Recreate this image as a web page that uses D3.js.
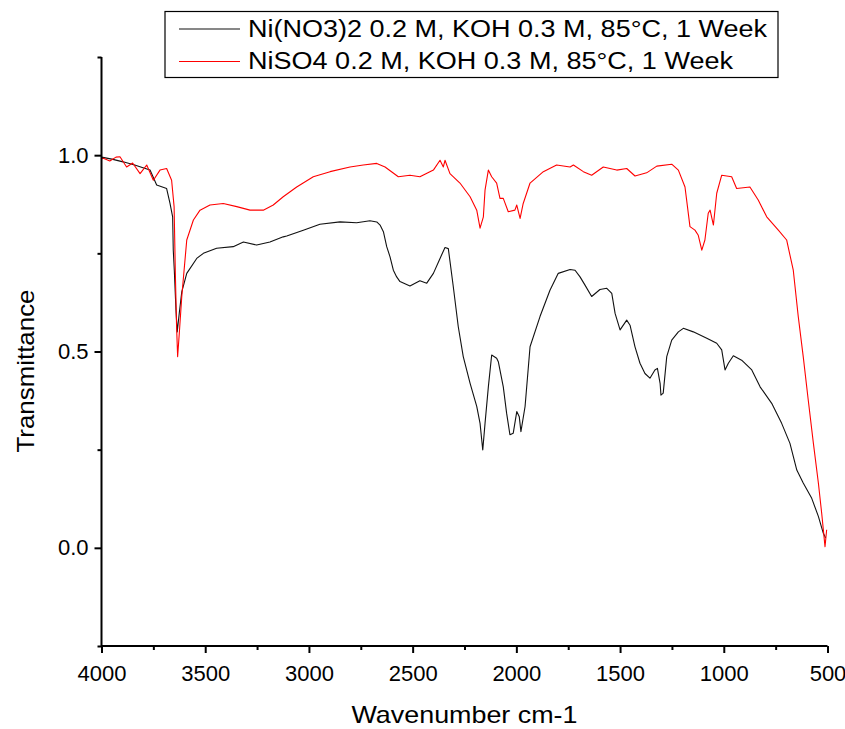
<!DOCTYPE html>
<html>
<head>
<meta charset="utf-8">
<script src="https://cdn.jsdelivr.net/npm/d3@7"></script>
<style>
  html, body { margin: 0; padding: 0; background: #ffffff; }
  svg { display: block; font-family: "Liberation Sans", Arial, sans-serif; }
</style>
</head>
<body>
<div id="chart"></div>
<script>
  // FTIR spectra: [wavenumber, transmittance]
  const nitrateSpectrum = [
    [4000, 0.995], [3950, 0.99], [3896, 0.983], [3840, 0.975], [3800, 0.968], [3766, 0.962],
    [3734, 0.924], [3686, 0.915], [3670, 0.878], [3657, 0.843], [3654, 0.758], [3649, 0.707],
    [3641, 0.606], [3635, 0.55], [3625, 0.598], [3613, 0.652], [3589, 0.699], [3541, 0.737],
    [3509, 0.75], [3445, 0.763], [3365, 0.767], [3316, 0.779], [3252, 0.771], [3188, 0.779],
    [3124, 0.792], [3107, 0.794], [3027, 0.809], [2947, 0.824], [2850, 0.83], [2770, 0.828],
    [2706, 0.833], [2673, 0.83], [2657, 0.822], [2641, 0.805], [2625, 0.767], [2609, 0.741],
    [2593, 0.707], [2577, 0.69], [2561, 0.678], [2513, 0.667], [2465, 0.68], [2432, 0.674],
    [2400, 0.699], [2368, 0.737], [2344, 0.765], [2328, 0.762], [2304, 0.665], [2280, 0.563],
    [2256, 0.487], [2223, 0.419], [2191, 0.36], [2175, 0.317], [2162, 0.249], [2151, 0.317],
    [2135, 0.41], [2119, 0.491], [2095, 0.483], [2087, 0.474], [2063, 0.41], [2047, 0.343],
    [2031, 0.288], [2015, 0.292], [1998, 0.347], [1986, 0.334], [1978, 0.296], [1958, 0.36],
    [1934, 0.512], [1886, 0.589], [1838, 0.656], [1798, 0.699], [1741, 0.709], [1717, 0.707],
    [1693, 0.69], [1669, 0.669], [1637, 0.64], [1597, 0.658], [1564, 0.661], [1540, 0.648],
    [1524, 0.597], [1500, 0.555], [1468, 0.58], [1452, 0.567], [1428, 0.512], [1404, 0.47],
    [1380, 0.444], [1356, 0.432], [1332, 0.453], [1320, 0.457], [1307, 0.419], [1303, 0.389],
    [1292, 0.394], [1275, 0.487], [1251, 0.529], [1219, 0.55], [1195, 0.559], [1147, 0.55],
    [1082, 0.534], [1034, 0.521], [1010, 0.504], [994, 0.453], [978, 0.47], [954, 0.489],
    [914, 0.478], [865, 0.453], [825, 0.41], [769, 0.368], [721, 0.317], [681, 0.266],
    [648, 0.198], [617, 0.165], [576, 0.126], [544, 0.08], [520, 0.037], [509, 0.025]
  ];

  const sulfateSpectrum = [
    [4000, 0.99], [3991, 0.992], [3960, 0.985], [3930, 0.995], [3911, 0.996], [3879, 0.97],
    [3850, 0.98], [3814, 0.953], [3782, 0.975], [3750, 0.936], [3718, 0.962], [3686, 0.966],
    [3662, 0.936], [3650, 0.869], [3644, 0.699], [3638, 0.563], [3633, 0.487], [3625, 0.546],
    [3613, 0.64], [3589, 0.784], [3557, 0.835], [3525, 0.86], [3477, 0.873], [3413, 0.877],
    [3348, 0.869], [3284, 0.86], [3220, 0.86], [3172, 0.873], [3124, 0.894], [3059, 0.919],
    [2979, 0.945], [2898, 0.958], [2802, 0.97], [2738, 0.975], [2673, 0.979], [2633, 0.97],
    [2569, 0.945], [2513, 0.949], [2465, 0.945], [2400, 0.962], [2368, 0.987], [2352, 0.97],
    [2344, 0.987], [2320, 0.953], [2272, 0.929], [2223, 0.894], [2191, 0.86], [2175, 0.814],
    [2159, 0.843], [2151, 0.911], [2135, 0.962], [2119, 0.945], [2095, 0.929], [2079, 0.89],
    [2063, 0.89], [2039, 0.856], [2007, 0.86], [1998, 0.873], [1982, 0.839], [1967, 0.877],
    [1934, 0.929], [1870, 0.958], [1806, 0.975], [1741, 0.97], [1725, 0.975], [1677, 0.958],
    [1637, 0.949], [1581, 0.97], [1516, 0.962], [1468, 0.966], [1428, 0.947], [1372, 0.955],
    [1323, 0.972], [1251, 0.977], [1219, 0.962], [1187, 0.919], [1163, 0.818], [1139, 0.809],
    [1123, 0.796], [1106, 0.758], [1091, 0.784], [1075, 0.852], [1066, 0.86], [1050, 0.822],
    [1034, 0.903], [1010, 0.949], [962, 0.945], [938, 0.915], [874, 0.919], [834, 0.886],
    [793, 0.843], [737, 0.809], [697, 0.784], [665, 0.707], [641, 0.589], [617, 0.487],
    [593, 0.377], [568, 0.266], [544, 0.165], [528, 0.088], [512, 0.003], [504, 0.046]
  ];

  const seriesNames = [
    'Ni(NO3)2 0.2 M, KOH 0.3 M, 85°C, 1 Week',
    'NiSO4 0.2 M, KOH 0.3 M, 85°C, 1 Week'
  ];
  const seriesColors = ['#111111', '#ff0000'];

  const xMajorTicks = [4000, 3500, 3000, 2500, 2000, 1500, 1000, 500];
  const xMinorTicks = [3750, 3250, 2750, 2250, 1750, 1250, 750];
  const yMajorTicks = [0.0, 0.5, 1.0];
  const yMinorTicks = [-0.25, 0.25, 0.75, 1.25];

  const width = 845;
  const height = 729;
  const plot = { left: 101.5, right: 827.5, top: 57, bottom: 646 };

  const svg = d3.select('#chart')
    .append('svg')
    .attr('width', width)
    .attr('height', height);

  const x = d3.scaleLinear().domain([4000, 500]).range([plot.left, plot.right]);
  const y = d3.scaleLinear().domain([-0.25, 1.25]).range([plot.bottom, plot.top]);

  // clip the spectra to the plotting area
  svg.append('defs').append('clipPath').attr('id', 'plot-clip')
    .append('rect')
    .attr('x', plot.left)
    .attr('y', plot.top)
    .attr('width', plot.right - plot.left + 2)
    .attr('height', plot.bottom - plot.top);

  const line = d3.line()
    .x(d => x(d[0]))
    .y(d => y(d[1]));

  const linesGroup = svg.append('g').attr('clip-path', 'url(#plot-clip)');
  [nitrateSpectrum, sulfateSpectrum].forEach((data, i) => {
    linesGroup.append('path')
      .datum(data)
      .attr('d', line)
      .attr('fill', 'none')
      .attr('stroke', seriesColors[i])
      .attr('stroke-width', 1.1)
      .attr('stroke-linejoin', 'round');
  });

  // axes: major ticks labelled, minor ticks shorter
  const xAxisMajor = d3.axisBottom(x).tickValues(xMajorTicks).tickSize(7).tickPadding(12)
    .tickFormat(d3.format('d'));
  const xAxisMinor = d3.axisBottom(x).tickValues(xMinorTicks).tickSize(4).tickFormat('');
  const yAxisMajor = d3.axisLeft(y).tickValues(yMajorTicks).tickSize(7).tickPadding(6)
    .tickFormat(d3.format('.1f'));
  const yAxisMinor = d3.axisLeft(y).tickValues(yMinorTicks).tickSize(4).tickFormat('');

  function styleAxis(g) {
    g.select('.domain').remove();
    g.selectAll('.tick line').attr('stroke', '#000').attr('stroke-width', 2);
    g.selectAll('.tick text')
      .attr('fill', '#000')
      .style('font-family', '"Liberation Sans", Arial, sans-serif')
      .style('font-size', '22px');
  }

  svg.append('g').attr('transform', `translate(0,${plot.bottom})`).call(xAxisMinor).call(styleAxis);
  svg.append('g').attr('transform', `translate(0,${plot.bottom})`).call(xAxisMajor).call(styleAxis);
  svg.append('g').attr('transform', `translate(${plot.left},0)`).call(yAxisMinor).call(styleAxis);
  svg.append('g').attr('transform', `translate(${plot.left},0)`).call(yAxisMajor).call(styleAxis);

  // axis spines (left and bottom only)
  svg.append('path')
    .attr('d', `M${plot.left},${plot.top}V${plot.bottom}H${plot.right}`)
    .attr('fill', 'none')
    .attr('stroke', '#000')
    .attr('stroke-width', 2);

  // axis titles
  svg.append('text')
    .attr('x', (plot.left + plot.right) / 2)
    .attr('y', 723)
    .attr('text-anchor', 'middle')
    .attr('textLength', 226)
    .attr('lengthAdjust', 'spacingAndGlyphs')
    .style('font-size', '24px')
    .text('Wavenumber cm-1');

  svg.append('text')
    .attr('transform', 'translate(34,371) rotate(-90)')
    .attr('text-anchor', 'middle')
    .attr('textLength', 163)
    .attr('lengthAdjust', 'spacingAndGlyphs')
    .style('font-size', '24px')
    .text('Transmittance');

  // legend
  const legend = svg.append('g');
  legend.append('rect')
    .attr('x', 165)
    .attr('y', 11.5)
    .attr('width', 613)
    .attr('height', 66)
    .attr('fill', '#fff')
    .attr('stroke', '#000')
    .attr('stroke-width', 1.2);

  const legendRows = [29, 61.5];
  seriesNames.forEach((name, i) => {
    legend.append('line')
      .attr('x1', 179)
      .attr('x2', 240)
      .attr('y1', legendRows[i])
      .attr('y2', legendRows[i])
      .attr('stroke', seriesColors[i])
      .attr('stroke-width', 1.1);
    legend.append('text')
      .attr('x', 248)
      .attr('y', legendRows[i] + 7.8)
      .attr('textLength', i === 0 ? 519 : 485)
      .attr('lengthAdjust', 'spacingAndGlyphs')
      .style('font-size', '23px')
      .text(name);
  });
</script>
</body>
</html>
